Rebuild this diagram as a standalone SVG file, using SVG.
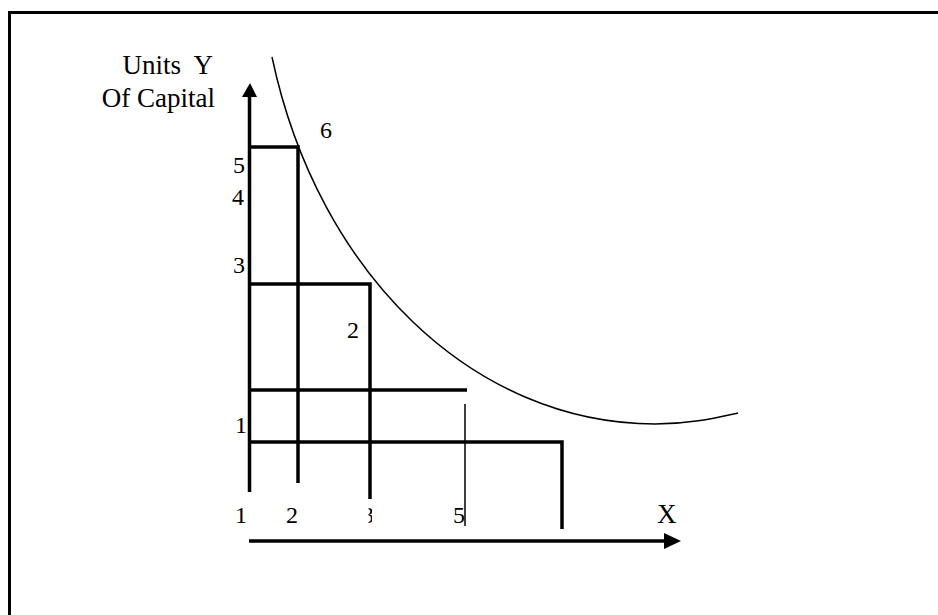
<svg xmlns="http://www.w3.org/2000/svg" width="938" height="615" viewBox="0 0 938 615">
<style>
.t{font-family:"Liberation Serif","DejaVu Serif",serif;fill:#000}
.big{font-size:27px}
.d{font-size:24px}
.thick{stroke:#000;stroke-width:3.5;fill:none}
.thin{stroke:#000;stroke-width:1.5;fill:none}
</style>
<defs>
<clipPath id="c3"><rect x="368.5" y="500" width="3.5" height="30"/></clipPath>
</defs>
<rect x="9.5" y="12.5" width="940" height="620" fill="none" stroke="#000" stroke-width="3"/>
<g id="connectors">
<line class="thick" x1="249.5" y1="95" x2="249.5" y2="492"/>
<polygon points="250,83 242,97 257,97" fill="#000"/>
<line class="thick" x1="249" y1="541" x2="666" y2="541"/>
<polygon points="681,541 664,533 664,549" fill="#000"/>
<path class="thick" d="M249,147 H298 V483"/>
<path class="thick" d="M250,284 H370 V499"/>
<line class="thick" x1="250" y1="390" x2="467" y2="390"/>
<line class="thin" x1="465" y1="404" x2="465" y2="526"/>
<path class="thick" d="M250,442 H562 V529"/>
<path class="thin" d="M272,57 C 318,275 475,424 655,424 C 690,424 715,418 738,413"/>
</g>
<g id="labels">
<text class="t big" x="213" y="74" text-anchor="end" xml:space="preserve">Units  Y</text>
<text class="t big" x="215" y="107" text-anchor="end">Of Capital</text>
<text class="t d" x="320" y="138">6</text>
<text class="t d" x="233" y="173">5</text>
<text class="t d" x="232" y="205">4</text>
<text class="t d" x="233" y="273">3</text>
<text class="t d" x="347" y="338">2</text>
<text class="t d" x="235" y="433">1</text>
<text class="t d" x="235" y="523">1</text>
<text class="t d" x="286" y="523">2</text>
<text class="t d" x="362" y="523" clip-path="url(#c3)">3</text>
<text class="t d" x="453" y="523">5</text>
<text class="t big" x="657" y="523">X</text>
</g>
</svg>
